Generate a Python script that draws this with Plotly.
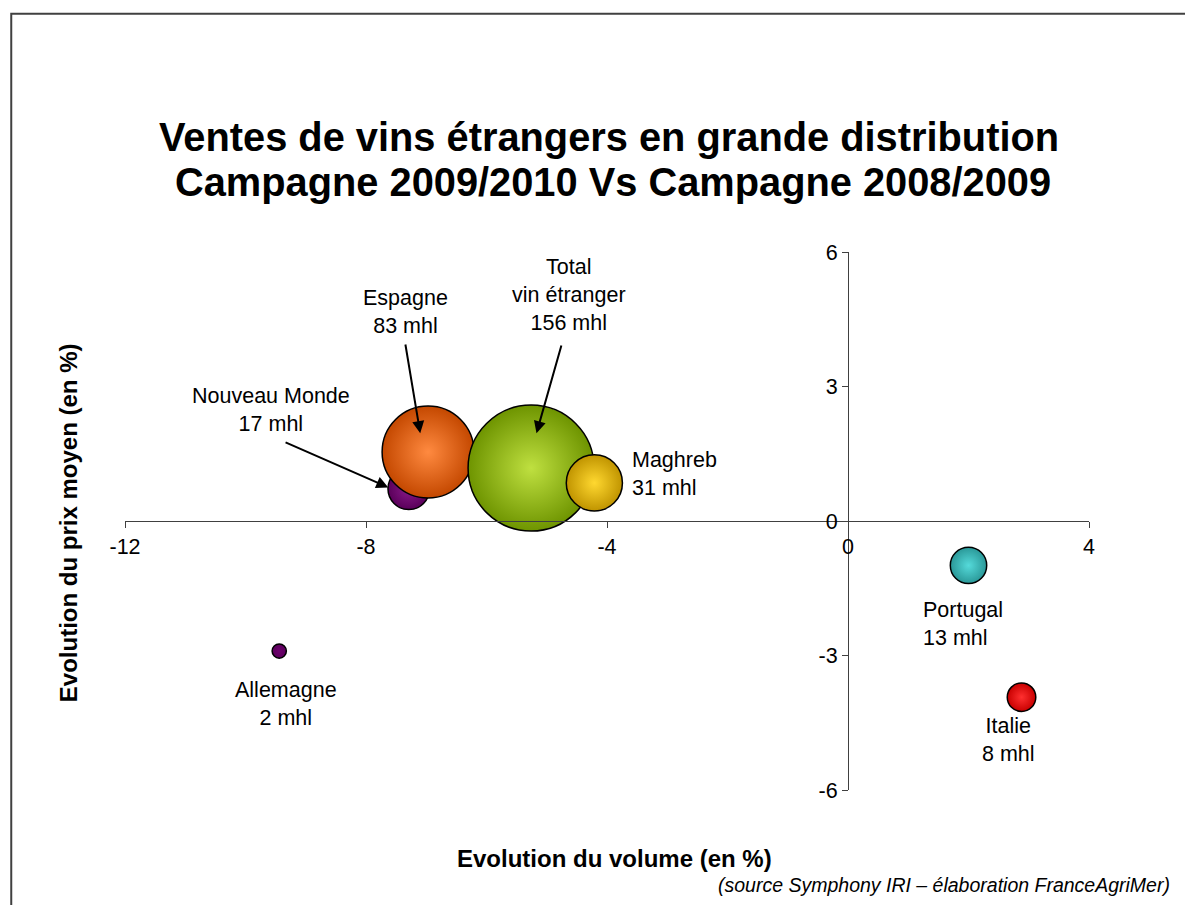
import plotly.graph_objects as go

# ---- data ----
countries = ["Allemagne", "Nouveau Monde", "Espagne", "Total\nvin étranger", "Maghreb", "Portugal", "Italie"]
volume_change = [-9.44, -7.29, -6.97, -5.26, -4.21, 2.00, 2.88]   # x, %
price_change = [-2.90, 0.72, 1.54, 1.18, 0.85, -0.99, -3.93]     # y, %
volumes_mhl = [2, 17, 83, 156, 31, 13, 8]

x_ticks = [-12, -8, -4, 0, 4]
y_ticks = [-6, -3, 0, 3, 6]

# ---- style ----
edge_colors = ["#5c005c", "#5a005a", "#c44800", "#6e9400", "#c09400", "#2a9898", "#c80000"]
center_colors = ["#6e006e", "#8a1a8a", "#ff8a40", "#bfe040", "#ffd830", "#55dada", "#ff3030"]
FONT = "Arial, 'Liberation Sans', sans-serif"
AX = "#404040"
MAX_D = 126
PAGE_OFFSET = 8  # default body margin of the html page

fig = go.Figure()
fig.add_trace(go.Scatter(
    x=volume_change, y=price_change, mode="markers",
    marker=dict(
        size=volumes_mhl, sizemode="area", sizeref=2.0 * max(volumes_mhl) / MAX_D ** 2,
        color=edge_colors,
        gradient=dict(type="radial", color=center_colors),
        line=dict(color="black", width=1.5),
        opacity=1,
    ),
    hovertext=countries, showlegend=False,
))

# data labels
def lbl(text, x, y, align="center", xanchor="center"):
    fig.add_annotation(x=x, y=y, xref="x", yref="y", text=text, showarrow=False,
                       align=align, xanchor=xanchor, yanchor="middle",
                       font=dict(family=FONT, size=21.5, color="black"))

lbl(f"Espagne<br>{volumes_mhl[2]} mhl", -7.35, 4.66)
lbl(f"Total<br>vin étranger<br>{volumes_mhl[3]} mhl", -4.63, 5.05)
lbl(f"Nouveau Monde<br>{volumes_mhl[1]} mhl", -9.58, 2.48)
lbl(f"Maghreb<br>{volumes_mhl[4]} mhl", -3.62, 1.05, align="left", xanchor="left")
lbl(f"Portugal<br>{volumes_mhl[5]} mhl", 1.21, -2.30, align="left", xanchor="left")
lbl(f"Italie<br>{volumes_mhl[6]} mhl", 2.67, -4.89)
lbl(f"Allemagne<br>{volumes_mhl[0]} mhl", -9.33, -4.09)

# arrows
def arrow(x, y, ax, ay):
    fig.add_annotation(x=x, y=y, ax=ax, ay=ay, xref="x", yref="y", axref="x", ayref="y",
                       text="", showarrow=True, arrowhead=2, arrowsize=1.2,
                       arrowwidth=2, arrowcolor="black", standoff=0, startstandoff=0)

arrow(-7.10, 1.96, -7.35, 3.97)
arrow(-5.17, 1.96, -4.75, 3.95)
arrow(-7.63, 0.75, -9.36, 1.77)

# titles
fig.add_annotation(x=0.5016, y=1.2146, xref="paper", yref="paper", showarrow=False,
                   text="<b>Ventes de vins étrangers en grande distribution</b>",
                   font=dict(family=FONT, size=39.8, color="black"), yanchor="middle")
fig.add_annotation(x=0.506, y=1.1306, xref="paper", yref="paper", showarrow=False,
                   text="<b>Campagne 2009/2010 Vs Campagne 2008/2009</b>",
                   font=dict(family=FONT, size=39.8, color="black"), yanchor="middle")
fig.add_annotation(x=0.508, y=-0.127, xref="paper", yref="paper", showarrow=False,
                   text="<b>Evolution du volume (en %)</b>",
                   font=dict(family=FONT, size=24, color="black"), yanchor="middle")
fig.add_annotation(x=-0.0591, y=0.496, xref="paper", yref="paper", showarrow=False,
                   text="<b>Evolution du prix moyen (en %)</b>", textangle=-90,
                   font=dict(family=FONT, size=24, color="black"), xanchor="center", yanchor="middle")
fig.add_annotation(x=1.086, y=-0.177, xref="paper", yref="paper", showarrow=False,
                   text="<i>(source Symphony IRI – élaboration FranceAgriMer)</i>",
                   font=dict(family=FONT, size=19.5, color="black"), xanchor="right", yanchor="middle")

# outer frame
fig.add_shape(type="rect", xref="paper", yref="paper", x0=-0.118, x1=1.115, y0=-0.233, y1=1.443,
              line=dict(color=AX, width=2), fillcolor="rgba(0,0,0,0)", layer="below")

axis_common = dict(showgrid=False, zeroline=False, showline=True, linecolor=AX, linewidth=1,
                   ticks="outside", ticklen=6, tickcolor=AX, tickwidth=1,
                   tickfont=dict(family=FONT, size=21.5, color="black"))

fig.update_layout(
    width=1193, height=905,
    margin=dict(l=125 - PAGE_OFFSET, r=104 + PAGE_OFFSET, t=252 - PAGE_OFFSET, b=115 + PAGE_OFFSET),
    paper_bgcolor="white", plot_bgcolor="white",
    xaxis=dict(range=[x_ticks[0], x_ticks[-1]], tickvals=x_ticks,
               ticktext=[str(v) for v in x_ticks], anchor="free", position=0.5,
               **axis_common),
    yaxis=dict(range=[y_ticks[0], y_ticks[-1]], tickvals=y_ticks,
               ticktext=[str(v) for v in y_ticks], anchor="free",
               position=(0 - x_ticks[0]) / (x_ticks[-1] - x_ticks[0]), **axis_common),
)

fig.write_html("out.html")
